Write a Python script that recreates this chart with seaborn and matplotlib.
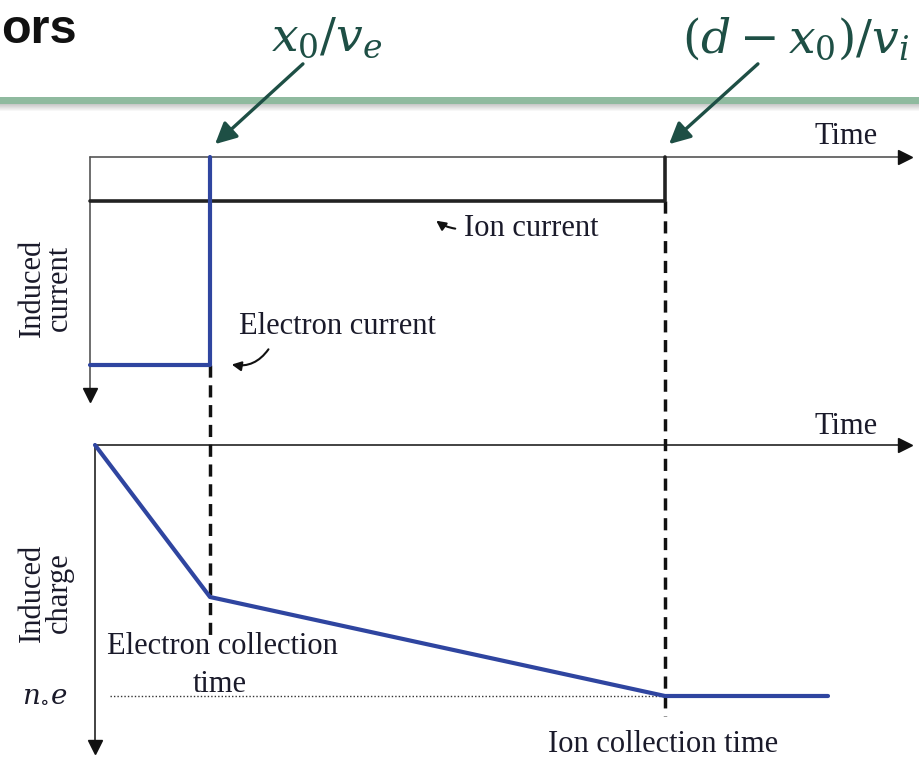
import numpy as np
import pandas as pd
import matplotlib
matplotlib.use("Agg")
import matplotlib.pyplot as plt
import seaborn as sns
from matplotlib.patches import FancyArrowPatch

# schematic in pixel-like units (x to the right, y downwards)
t_electron = 210          # x0/ve
t_ion = 665               # (d - x0)/vi
t_end = 828

# upper panel: induced current
cur_top = 157
ion_level = 201
electron_level = 365

ion_t = [90, t_ion, t_ion]
ion_i = [ion_level, ion_level, cur_top]
el_t = [90, t_electron, t_electron]
el_i = [electron_level, electron_level, cur_top]

# lower panel: induced charge
chg_top = 445
charge_t = [95, t_electron, t_ion, t_end]
charge_q = [chg_top, 597, 696, 696]
noe_level = 696

blue = "#2f45a0"
green = "#1e4f45"

sns.set_theme(style="white")
plt.rcParams["font.family"] = ["Liberation Serif", "DejaVu Serif"]
plt.rcParams["mathtext.fontset"] = "dejavuserif"

fig = plt.figure(figsize=(9.19, 7.57), dpi=100)
ax = fig.add_axes([0, 0, 1, 1])
ax.set_xlim(0, 919)
ax.set_ylim(757, 0)
ax.axis("off")

# slide header bits
fig.text(0.001, 0.99, "ors", ha="left", va="top", fontsize=35, fontweight="bold",
         family=["Liberation Sans", "DejaVu Sans"], color="#111111")
ax.axhspan(97, 104, color="#8fba9f", lw=0)
for k, a in enumerate(np.linspace(0.45, 0.0, 8)):
    ax.axhspan(104 + k, 105 + k, color="#888888", alpha=a, lw=0)

# axes of the schematic
ax.plot([90, 900], [cur_top, cur_top], color="#555555", lw=1.2)
ax.plot([90, 90], [cur_top, 390], color="#555555", lw=1.2)
ax.plot([95, 900], [chg_top, chg_top], color="#222222", lw=1.2)
ax.plot([95, 95], [chg_top, 742], color="#222222", lw=1.2)
ax.plot([905], [cur_top], marker=">", color="#111111", ms=10)
ax.plot([905], [chg_top], marker=">", color="#111111", ms=10)
ax.plot([90], [395], marker="v", color="#111111", ms=10)
ax.plot([95], [747], marker="v", color="#111111", ms=10)

# dashed guide lines
ax.plot([t_electron, t_electron], [electron_level, 640], color="#111111", lw=2.5,
        ls=(0, (3.5, 2.2)))
ax.plot([t_ion, t_ion], [ion_level, 716], color="#111111", lw=2.5, ls=(0, (3.5, 2.2)))
ax.plot([110, t_ion], [noe_level, noe_level], color="#333333", lw=1, ls=(0, (1, 1.5)))

# signals
kw = dict(sort=False, estimator=None, errorbar=None, ax=ax)
sns.lineplot(x=ion_t, y=ion_i, color="#222222", lw=2.6, **kw)
sns.lineplot(x=el_t, y=el_i, color=blue, lw=3, **kw)
sns.lineplot(x=charge_t, y=charge_q, color=blue, lw=3, **kw)

# text labels
tc = "#1a1a2a"
fs = 22
ax.text(846, 137, "Time", fontsize=fs, ha="center", va="center", color=tc)
ax.text(846, 427, "Time", fontsize=fs, ha="center", va="center", color=tc)
ax.text(531, 228, "Ion current", fontsize=fs, ha="center", va="center", color=tc)
ax.text(337, 327, "Electron current", fontsize=fs, ha="center", va="center", color=tc)
ax.text(222, 647, "Electron collection", fontsize=fs, ha="center", va="center", color=tc)
ax.text(220, 684, "time", fontsize=fs, ha="center", va="center", color=tc)
ax.text(663, 744, "Ion collection time", fontsize=fs, ha="center", va="center", color=tc)
ax.text(46, 288, "Induced\ncurrent", fontsize=fs, ha="center", va="center", rotation=90,
        linespacing=0.9, color=tc)
ax.text(46, 593, "Induced\ncharge", fontsize=fs, ha="center", va="center", rotation=90,
        linespacing=0.9, color=tc)
ax.text(45, 695, r"$n_{\circ}e$", fontsize=20, ha="center", va="center", color=tc)

# little pointers
ax.add_patch(FancyArrowPatch((458, 229), (434, 219), arrowstyle="-|>", mutation_scale=14,
                             color="#111111", lw=1.5, connectionstyle="arc3,rad=-0.15"))
ax.add_patch(FancyArrowPatch((270, 347), (229, 364), arrowstyle="-|>", mutation_scale=14,
                             color="#111111", lw=1.5, connectionstyle="arc3,rad=-0.35"))

# green callouts
ax.text(327, 39, r"$x_0/v_e$", fontsize=34, ha="center", va="center", color=green)
ax.text(796, 39, r"$(d-x_0)/v_i$", fontsize=34, ha="center", va="center", color=green)
ax.add_patch(FancyArrowPatch((305, 62), (213, 146), arrowstyle="-|>", mutation_scale=32,
                             color=green, lw=2.4))
ax.add_patch(FancyArrowPatch((760, 62), (667, 146), arrowstyle="-|>", mutation_scale=32,
                             color=green, lw=2.4))

fig.savefig("out.png", dpi=100)
